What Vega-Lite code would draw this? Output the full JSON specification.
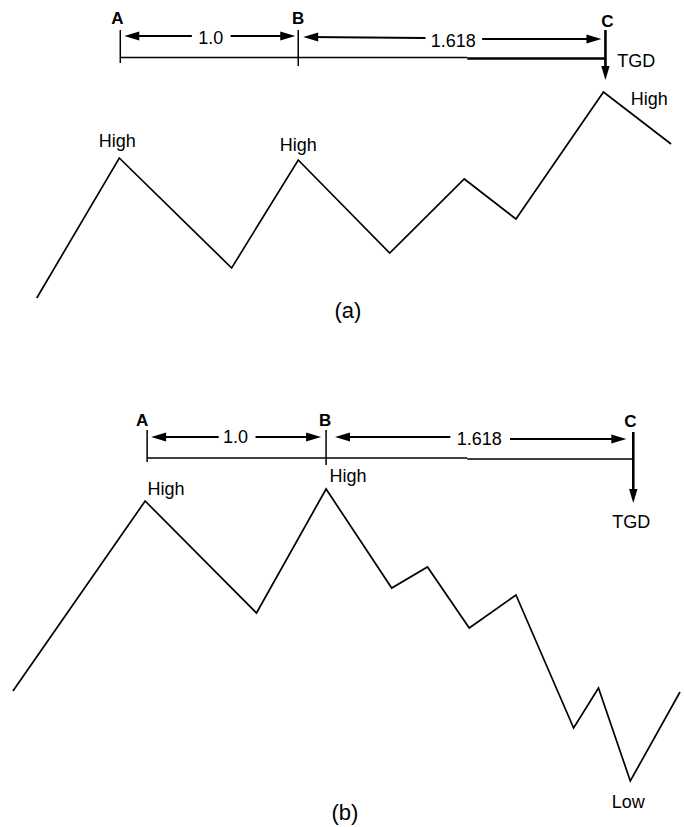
{
  "$schema": "https://vega.github.io/schema/vega-lite/v6.json",
  "width": 684,
  "height": 827,
  "autosize": {"type": "fit", "contains": "padding"},
  "padding": 0,
  "background": "white",
  "config": {"view": {"stroke": null}, "font": "Liberation Sans"},
  "datasets": {
    "zigzag": [
      {"panel": "a", "i": 0, "x": 37, "y": 298},
      {"panel": "a", "i": 1, "x": 120, "y": 158},
      {"panel": "a", "i": 2, "x": 233, "y": 268},
      {"panel": "a", "i": 3, "x": 300, "y": 160},
      {"panel": "a", "i": 4, "x": 392, "y": 253},
      {"panel": "a", "i": 5, "x": 467, "y": 179},
      {"panel": "a", "i": 6, "x": 519, "y": 219},
      {"panel": "a", "i": 7, "x": 607, "y": 92},
      {"panel": "a", "i": 8, "x": 675, "y": 144},
      {"panel": "b", "i": 0, "x": 13, "y": 691},
      {"panel": "b", "i": 1, "x": 146, "y": 501},
      {"panel": "b", "i": 2, "x": 258, "y": 613},
      {"panel": "b", "i": 3, "x": 328, "y": 489},
      {"panel": "b", "i": 4, "x": 394, "y": 588},
      {"panel": "b", "i": 5, "x": 430, "y": 567},
      {"panel": "b", "i": 6, "x": 472, "y": 628},
      {"panel": "b", "i": 7, "x": 519, "y": 595},
      {"panel": "b", "i": 8, "x": 577, "y": 728},
      {"panel": "b", "i": 9, "x": 602, "y": 688},
      {"panel": "b", "i": 10, "x": 634, "y": 781},
      {"panel": "b", "i": 11, "x": 684, "y": 692}
    ],
    "segments": [
      {"kind": "tick", "x": 121, "y": 30, "x2": 121, "y2": 63},
      {"kind": "tick", "x": 300, "y": 30, "x2": 300, "y2": 66},
      {"kind": "tickC", "x": 609, "y": 30, "x2": 609, "y2": 74},
      {"kind": "base", "x": 121, "y": 57.5, "x2": 470, "y2": 57.5},
      {"kind": "baseBold", "x": 470, "y": 58.5, "x2": 609, "y2": 58.5},
      {"kind": "shaft", "x": 130, "y": 36, "x2": 193, "y2": 36},
      {"kind": "shaft", "x": 232, "y": 36, "x2": 292, "y2": 36},
      {"kind": "shaft", "x": 310, "y": 37, "x2": 428, "y2": 38},
      {"kind": "shaft", "x": 485, "y": 39, "x2": 600, "y2": 39},
      {"kind": "tick", "x": 148, "y": 430, "x2": 148, "y2": 462},
      {"kind": "tick", "x": 328, "y": 430, "x2": 328, "y2": 465},
      {"kind": "tickC", "x": 637, "y": 432, "x2": 637, "y2": 496},
      {"kind": "base", "x": 148, "y": 458, "x2": 470, "y2": 458},
      {"kind": "base", "x": 470, "y": 459, "x2": 637, "y2": 459},
      {"kind": "shaft", "x": 157, "y": 437, "x2": 220, "y2": 437},
      {"kind": "shaft", "x": 257, "y": 437, "x2": 318, "y2": 437},
      {"kind": "shaft", "x": 342, "y": 437, "x2": 453, "y2": 437},
      {"kind": "shaft", "x": 513, "y": 439, "x2": 625, "y2": 439}
    ],
    "heads": [
      {"dir": "left", "x": 125, "y": 36},
      {"dir": "right", "x": 297, "y": 36},
      {"dir": "left", "x": 305, "y": 37},
      {"dir": "right", "x": 605, "y": 39},
      {"dir": "down", "x": 609, "y": 80},
      {"dir": "left", "x": 152, "y": 437},
      {"dir": "right", "x": 323, "y": 437},
      {"dir": "left", "x": 337, "y": 437},
      {"dir": "right", "x": 630, "y": 439},
      {"dir": "down", "x": 637, "y": 503}
    ],
    "labels": [
      {"kind": "letter", "text": "A", "x": 118, "y": 19},
      {"kind": "letter", "text": "B", "x": 300, "y": 19},
      {"kind": "letter", "text": "C", "x": 611, "y": 22},
      {"kind": "word", "text": "1.0", "x": 212, "y": 39},
      {"kind": "word", "text": "1.618", "x": 456, "y": 42},
      {"kind": "word", "text": "TGD", "x": 640, "y": 62},
      {"kind": "word", "text": "High", "x": 118, "y": 142},
      {"kind": "word", "text": "High", "x": 300, "y": 146},
      {"kind": "word", "text": "High", "x": 653, "y": 100},
      {"kind": "caption", "text": "(a)", "x": 350, "y": 311},
      {"kind": "letter", "text": "A", "x": 143, "y": 421},
      {"kind": "letter", "text": "B", "x": 327, "y": 421},
      {"kind": "letter", "text": "C", "x": 634, "y": 422},
      {"kind": "word", "text": "1.0", "x": 237, "y": 438},
      {"kind": "word", "text": "1.618", "x": 482, "y": 440},
      {"kind": "word", "text": "High", "x": 167, "y": 490},
      {"kind": "word", "text": "High", "x": 350, "y": 477},
      {"kind": "word", "text": "TGD", "x": 635, "y": 523},
      {"kind": "word", "text": "Low", "x": 632, "y": 803},
      {"kind": "caption", "text": "(b)", "x": 347, "y": 813}
    ]
  },
  "encoding": {
    "x": {"field": "x", "type": "quantitative", "scale": {"domain": [0, 684], "nice": false, "zero": false}, "axis": null},
    "y": {"field": "y", "type": "quantitative", "scale": {"domain": [0, 827], "nice": false, "zero": false, "reverse": true}, "axis": null}
  },
  "layer": [
    {
      "data": {"name": "zigzag"},
      "mark": {"type": "line", "color": "black", "strokeWidth": 1.7, "clip": false},
      "encoding": {"detail": {"field": "panel"}, "order": {"field": "i", "type": "quantitative"}}
    },
    {
      "data": {"name": "segments"},
      "transform": [{"filter": "datum.kind === 'tick'"}],
      "mark": {"type": "rule", "color": "black", "strokeWidth": 1.5},
      "encoding": {"x2": {"field": "x2"}, "y2": {"field": "y2"}}
    },
    {
      "data": {"name": "segments"},
      "transform": [{"filter": "datum.kind === 'tickC'"}],
      "mark": {"type": "rule", "color": "black", "strokeWidth": 2.6},
      "encoding": {"x2": {"field": "x2"}, "y2": {"field": "y2"}}
    },
    {
      "data": {"name": "segments"},
      "transform": [{"filter": "datum.kind === 'base'"}],
      "mark": {"type": "rule", "color": "black", "strokeWidth": 1.3},
      "encoding": {"x2": {"field": "x2"}, "y2": {"field": "y2"}}
    },
    {
      "data": {"name": "segments"},
      "transform": [{"filter": "datum.kind === 'baseBold'"}],
      "mark": {"type": "rule", "color": "black", "strokeWidth": 2.6},
      "encoding": {"x2": {"field": "x2"}, "y2": {"field": "y2"}}
    },
    {
      "data": {"name": "segments"},
      "transform": [{"filter": "datum.kind === 'shaft'"}],
      "mark": {"type": "rule", "color": "black", "strokeWidth": 2},
      "encoding": {"x2": {"field": "x2"}, "y2": {"field": "y2"}}
    },
    {
      "data": {"name": "heads"},
      "transform": [{"filter": "datum.dir === 'left'"}],
      "mark": {"type": "point", "filled": true, "color": "black", "opacity": 1, "size": 225, "shape": "M0,0L2,-0.6L2,0.6Z"}
    },
    {
      "data": {"name": "heads"},
      "transform": [{"filter": "datum.dir === 'right'"}],
      "mark": {"type": "point", "filled": true, "color": "black", "opacity": 1, "size": 225, "shape": "M0,0L-2,-0.6L-2,0.6Z"}
    },
    {
      "data": {"name": "heads"},
      "transform": [{"filter": "datum.dir === 'down'"}],
      "mark": {"type": "point", "filled": true, "color": "black", "opacity": 1, "size": 196, "shape": "M0,0L-0.6,-2L0.6,-2Z"}
    },
    {
      "data": {"name": "labels"},
      "transform": [{"filter": "datum.kind === 'letter'"}],
      "mark": {"type": "text", "color": "black", "fontSize": 17, "fontWeight": "bold", "align": "center", "baseline": "middle"},
      "encoding": {"text": {"field": "text"}}
    },
    {
      "data": {"name": "labels"},
      "transform": [{"filter": "datum.kind === 'word'"}],
      "mark": {"type": "text", "color": "black", "fontSize": 18, "align": "center", "baseline": "middle"},
      "encoding": {"text": {"field": "text"}}
    },
    {
      "data": {"name": "labels"},
      "transform": [{"filter": "datum.kind === 'caption'"}],
      "mark": {"type": "text", "color": "black", "fontSize": 22, "align": "center", "baseline": "middle"},
      "encoding": {"text": {"field": "text"}}
    }
  ]
}
